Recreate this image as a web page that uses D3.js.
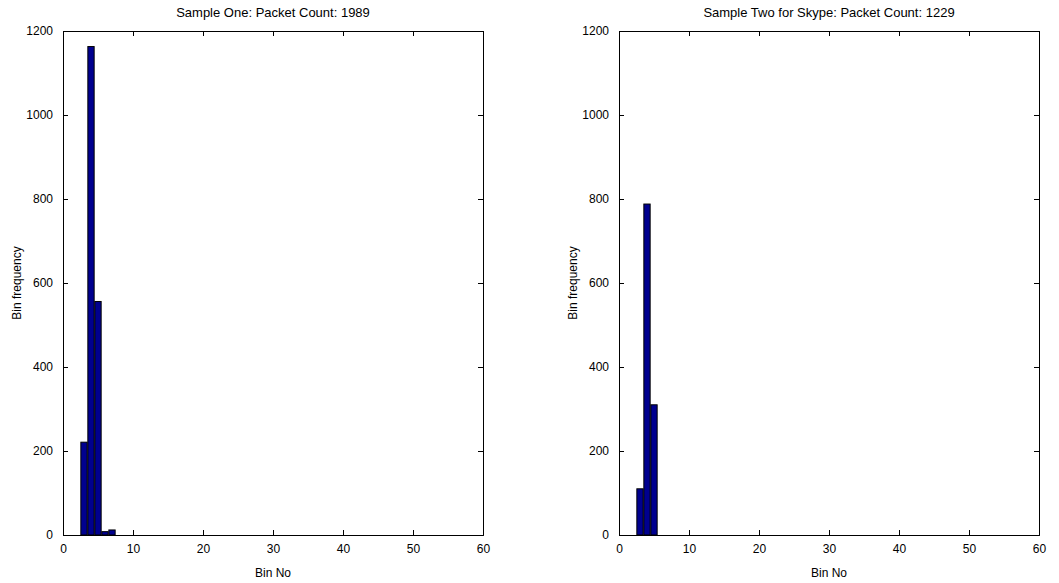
<!DOCTYPE html>
<html><head><meta charset="utf-8">
<script src="https://cdn.jsdelivr.net/npm/d3@7"></script>
<style>
body{margin:0;background:#fff;}
svg{display:block;font-family:"Liberation Sans",Arial,sans-serif;}
</style></head>
<body>
<svg id="c" width="1059" height="583"></svg>
<script>
const binsOne = [3, 4, 5, 6, 7];
const freqOne = [221, 1163, 556, 8, 12];
const binsTwo = [3, 4, 5];
const freqTwo = [110, 788, 310];
const titleOne = "Sample One: Packet Count: 1989";
const titleTwo = "Sample Two for Skype: Packet Count: 1229";
const xTicks = [0, 10, 20, 30, 40, 50, 60];
const yTicks = [0, 200, 400, 600, 800, 1000, 1200];
const xLabel = "Bin No";
const yLabel = "Bin frequency";

const svg = d3.select("#c");

function panel(left, bins, freq, title) {
  const top = 31, w = 420, h = 504;
  const g = svg.append("g").attr("transform", `translate(${left},${top})`);
  const x = d3.scaleLinear().domain([0, 60]).range([0, w]);
  const y = d3.scaleLinear().domain([0, 1200]).range([h, 0]);
  const bw = 0.9;
  g.selectAll("rect.bar").data(bins).join("rect").attr("class","bar")
    .attr("x", d => x(d - bw/2)).attr("width", d => x(d + bw/2) - x(d - bw/2))
    .attr("y", (d,i) => y(freq[i])).attr("height", (d,i) => y(0) - y(freq[i]))
    .attr("fill", "#00008f").attr("stroke", "#000").attr("stroke-width", 1);
  const tick = 5;
  const ax = g.append("g").attr("transform", `translate(0,${h})`)
    .call(d3.axisBottom(x).tickValues(xTicks).tickSize(-tick).tickPadding(9).tickFormat(d3.format("d")));
  const axT = g.append("g")
    .call(d3.axisTop(x).tickValues(xTicks).tickSize(-tick).tickFormat(""));
  const ay = g.append("g")
    .call(d3.axisLeft(y).tickValues(yTicks).tickSize(-tick).tickPadding(10).tickFormat(d3.format("d")));
  const ayR = g.append("g").attr("transform", `translate(${w},0)`)
    .call(d3.axisRight(y).tickValues(yTicks).tickSize(-tick).tickFormat(""));
  [ax, axT, ay, ayR].forEach(a => {
    a.selectAll("path").attr("stroke", "#000");
    a.selectAll("line").attr("stroke", "#000");
    a.selectAll("text").attr("font-size", 12).attr("fill", "#000")
      .attr("font-family", '"Liberation Sans",Arial,sans-serif');
  });
  g.append("text").attr("x", w/2).attr("y", -14).attr("text-anchor", "middle")
    .attr("font-size", 13).text(title);
  g.append("text").attr("x", w/2).attr("y", h + 42).attr("text-anchor", "middle")
    .attr("font-size", 12).text(xLabel);
  g.append("text").attr("transform", `translate(${-42},${h/2}) rotate(-90)`)
    .attr("text-anchor", "middle").attr("font-size", 12).text(yLabel);
}
panel(63, binsOne, freqOne, titleOne);
panel(619, binsTwo, freqTwo, titleTwo);
</script>
</body></html>
